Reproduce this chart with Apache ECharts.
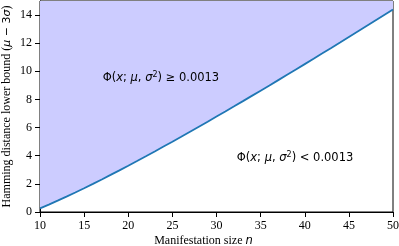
<!DOCTYPE html>
<html><head><meta charset="utf-8">
<script src="https://cdn.jsdelivr.net/npm/echarts@6/dist/echarts.min.js"></script>
<style>html,body{margin:0;padding:0;background:#fff}#c{width:399px;height:246px}</style>
</head><body><div id="c"></div>
<script>
const nValues = [10,11,12,13,14,15,16,17,18,19,20,21,22,23,24,25,26,27,28,29,30,31,32,33,34,35,36,37,38,39,40,41,42,43,44,45,46,47,48,49,50];
const lowerBound = [0.257,0.525,0.804,1.092,1.388,1.690,2.0,2.315,2.636,2.962,3.292,3.626,3.964,4.306,4.652,5.0,5.351,5.706,6.063,6.422,6.784,7.148,7.515,7.883,8.254,8.626,9.0,9.376,9.753,10.133,10.513,10.895,11.279,11.664,12.050,12.438,12.827,13.216,13.608,14.0,14.393];
const xTicks = [10,15,20,25,30,35,40,45,50];
const yTicks = [0,2,4,6,8,10,12,14];
const annotations = [
  {x: 23.7, y: 9.5, rel: '≥'},
  {x: 38.9, y: 3.85, rel: '<'}
];

const chart = echarts.init(document.getElementById('c'));
const serif = 'Liberation Serif';
const sans = 'DejaVu Sans';
const data = nValues.map((n, i) => [n, lowerBound[i]]);
chart.setOption({
  animation: false,
  grid: {left: 40, right: 6, top: 1, bottom: 34, containLabel: false, outerBoundsMode: 'none',
         show: true, borderColor: '#000', borderWidth: 1, backgroundColor: 'transparent'},
  xAxis: {
    type: 'value', min: 10, max: 50, interval: 5,
    axisLine: {lineStyle: {color: '#000', width: 1}},
    axisTick: {show: true, length: 5, lineStyle: {color: '#000'}, customValues: xTicks},
    axisLabel: {color: '#000', fontFamily: serif, fontSize: 12, margin: 8, customValues: xTicks},
    splitLine: {show: false},
    name: '{t|Manifestation size }{i|n}',
    nameLocation: 'middle', nameGap: 23, nameMoveOverlap: false,
    nameTextStyle: {padding: [0, 26, 0, 0], rich: {
      t: {fontFamily: serif, fontSize: 12, color: '#000'},
      i: {fontFamily: sans, fontStyle: 'italic', fontSize: 11.5, color: '#000'}
    }}
  },
  yAxis: {
    type: 'value', min: 0, max: 15, interval: 2,
    axisLine: {lineStyle: {color: '#000', width: 1}},
    axisTick: {show: true, length: 5, lineStyle: {color: '#000'}, customValues: yTicks},
    axisLabel: {color: '#000', fontFamily: serif, fontSize: 12, margin: 8, customValues: yTicks},
    splitLine: {show: false},
    name: '{t|Hamming distance lower bound (}{i|μ}{s| − 3}{i|σ}{t|)}',
    nameLocation: 'middle', nameGap: 27, nameMoveOverlap: false,
    nameTextStyle: {rich: {
      t: {fontFamily: serif, fontSize: 12, color: '#000'},
      s: {fontFamily: sans, fontSize: 11, color: '#000'},
      i: {fontFamily: sans, fontStyle: 'italic', fontSize: 11, color: '#000'}
    }}
  },
  series: [{
    type: 'line', data: data, showSymbol: false, smooth: false,
    lineStyle: {color: '#1f77b4', width: 1.8},
    areaStyle: {origin: 'end', color: '#ccccff', opacity: 1},
    z: 2
  }]
});

function drawAnnotations() {
  const rich = {
    n: {fontFamily: sans, fontSize: 11.5, color: '#000'},
    i: {fontFamily: sans, fontStyle: 'italic', fontSize: 11.5, color: '#000'},
    sup: {fontFamily: sans, fontSize: 8, color: '#000', verticalAlign: 'top', padding: [0,0,6,0]}
  };
  const g = annotations.map(a => {
    const p = chart.convertToPixel({gridIndex: 0}, [a.x, a.y]);
    return {
      type: 'text', x: p[0], y: p[1], z: 10,
      style: {
        text: '{n|Φ(}{i|x}{n|; }{i|μ}{n|, }{i|σ}{sup|2}{n|) ' + a.rel + ' 0.0013}',
        rich: rich, align: 'center', verticalAlign: 'middle'
      }
    };
  });
  chart.setOption({graphic: g});
}
drawAnnotations();
</script></body></html>
